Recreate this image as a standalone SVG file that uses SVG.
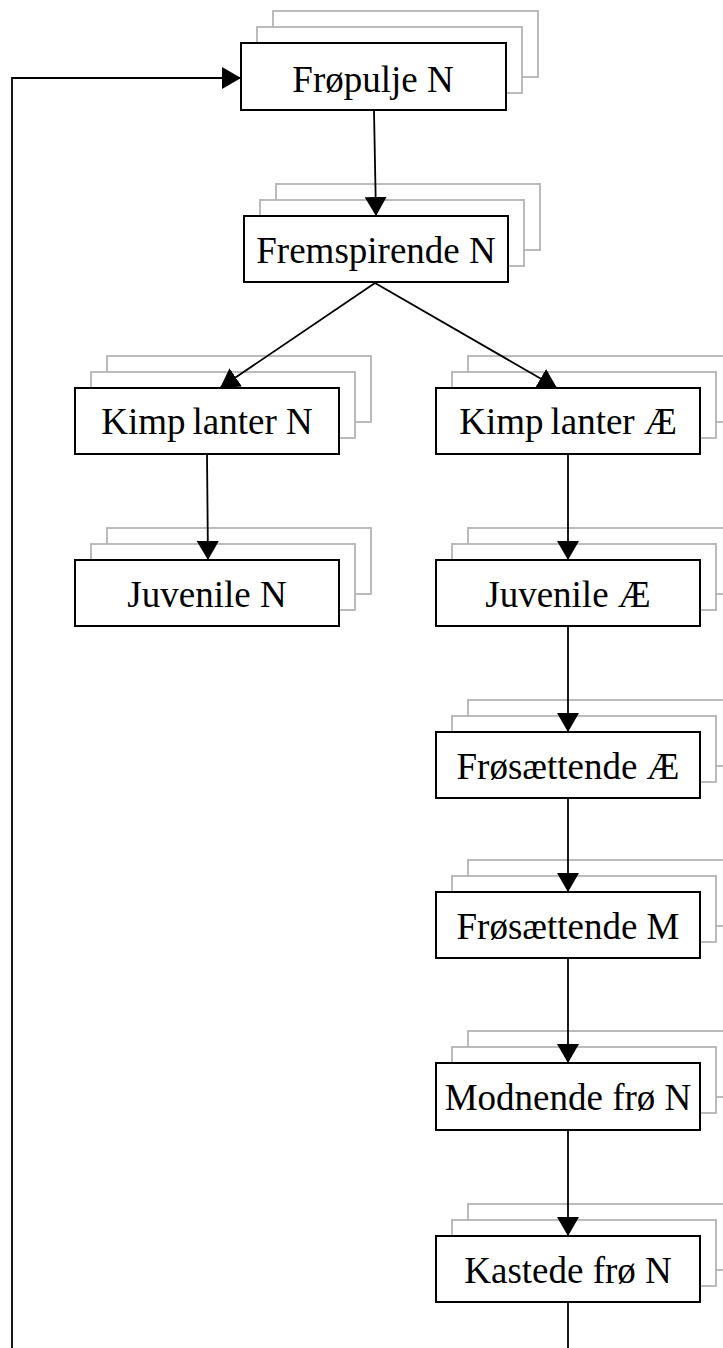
<svg xmlns="http://www.w3.org/2000/svg" width="723" height="1348" viewBox="0 0 723 1348">
<defs>
<style>
.bk{fill:#fff;stroke:#b4b4b4;stroke-width:1.8}
.mn{fill:#fff;stroke:#000;stroke-width:2}
.lb{font-family:"Liberation Serif","Times New Roman",serif;font-size:37px;fill:#000;text-anchor:middle}
.cn{fill:none;stroke:#000;stroke-width:1.8}
</style>
<marker id="ah" markerUnits="userSpaceOnUse" markerWidth="22" markerHeight="22" refX="19" refY="11" orient="auto">
<path d="M0,0 L19,11 L0,22 Z" fill="#000"/>
</marker>
</defs>
<rect width="723" height="1348" fill="#fff"/>
<g id="n-fropulje">
<rect class="bk" x="273" y="11" width="265" height="66"/>
<rect class="bk" x="257" y="27" width="265" height="66"/>
<rect class="mn" x="241" y="43" width="265" height="67"/>
<text class="lb" x="373" y="92">Frøpulje N</text>
</g>
<g id="n-fremspirende">
<rect class="bk" x="276" y="184" width="264" height="66"/>
<rect class="bk" x="260" y="200" width="264" height="66"/>
<rect class="mn" x="244" y="216" width="264" height="66"/>
<text class="lb" x="376" y="263">Fremspirende N</text>
</g>
<g id="n-kimplanter-n">
<rect class="bk" x="107" y="356" width="264" height="66"/>
<rect class="bk" x="91" y="372" width="264" height="66"/>
<rect class="mn" x="75" y="388" width="264" height="66"/>
<text class="lb" x="207" y="434">Kimp<tspan dx="7">lanter N</tspan></text>
</g>
<g id="n-kimplanter-ae">
<rect class="bk" x="468" y="356" width="264" height="66"/>
<rect class="bk" x="452" y="372" width="264" height="66"/>
<rect class="mn" x="436" y="388" width="264" height="66"/>
<text class="lb" x="568" y="434">Kimp<tspan dx="7">lanter Æ</tspan></text>
</g>
<g id="n-juvenile-n">
<rect class="bk" x="107" y="528" width="264" height="66"/>
<rect class="bk" x="91" y="544" width="264" height="66"/>
<rect class="mn" x="75" y="560" width="264" height="66"/>
<text class="lb" x="207" y="607">Juvenile N</text>
</g>
<g id="n-juvenile-ae">
<rect class="bk" x="468" y="528" width="264" height="66"/>
<rect class="bk" x="452" y="544" width="264" height="66"/>
<rect class="mn" x="436" y="560" width="264" height="66"/>
<text class="lb" x="568" y="607">Juvenile Æ</text>
</g>
<g id="n-frosaettende-ae">
<rect class="bk" x="468" y="700" width="264" height="66"/>
<rect class="bk" x="452" y="716" width="264" height="66"/>
<rect class="mn" x="436" y="732" width="264" height="66"/>
<text class="lb" x="568" y="779">Frøsættende Æ</text>
</g>
<g id="n-frosaettende-m">
<rect class="bk" x="468" y="860" width="264" height="66"/>
<rect class="bk" x="452" y="876" width="264" height="66"/>
<rect class="mn" x="436" y="892" width="264" height="66"/>
<text class="lb" x="568" y="939">Frøsættende M</text>
</g>
<g id="n-modnende">
<rect class="bk" x="468" y="1031" width="264" height="66"/>
<rect class="bk" x="452" y="1047" width="264" height="66"/>
<rect class="mn" x="436" y="1063" width="264" height="67"/>
<text class="lb" x="568" y="1110">Modnende frø N</text>
</g>
<g id="n-kastede">
<rect class="bk" x="468" y="1204" width="264" height="66"/>
<rect class="bk" x="452" y="1220" width="264" height="66"/>
<rect class="mn" x="436" y="1236" width="264" height="66"/>
<text class="lb" x="568" y="1283">Kastede frø N</text>
</g>
<g id="connectors">
<polyline class="cn" points="12,1348 12,78 241,78" marker-end="url(#ah)"/>
<line class="cn" x1="374" y1="111" x2="376" y2="216" marker-end="url(#ah)"/>
<line class="cn" x1="375" y1="283" x2="220" y2="388" marker-end="url(#ah)"/>
<line class="cn" x1="375" y1="283" x2="557" y2="388" marker-end="url(#ah)"/>
<line class="cn" x1="207" y1="455" x2="208" y2="560" marker-end="url(#ah)"/>
<line class="cn" x1="568" y1="455" x2="568" y2="560" marker-end="url(#ah)"/>
<line class="cn" x1="568" y1="627" x2="568" y2="732" marker-end="url(#ah)"/>
<line class="cn" x1="568" y1="799" x2="568" y2="892" marker-end="url(#ah)"/>
<line class="cn" x1="568" y1="959" x2="568" y2="1063" marker-end="url(#ah)"/>
<line class="cn" x1="568" y1="1131" x2="568" y2="1236" marker-end="url(#ah)"/>
<line class="cn" x1="568" y1="1303" x2="568" y2="1348"/>
</g>
</svg>
